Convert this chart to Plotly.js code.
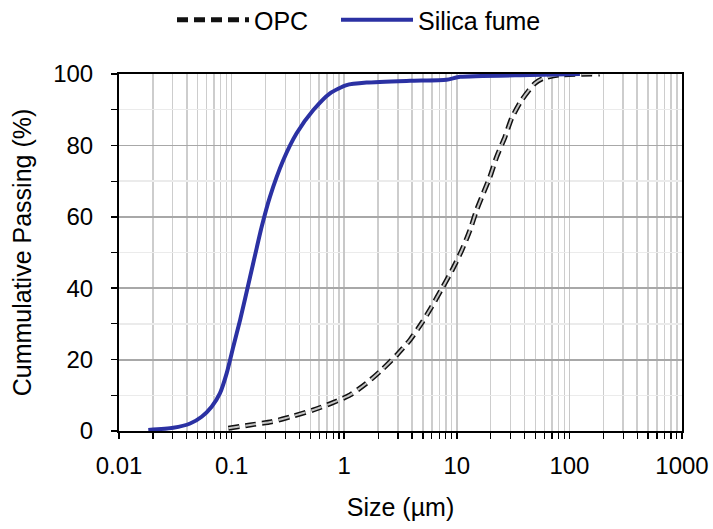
<!DOCTYPE html>
<html><head><meta charset="utf-8">
<script src="https://cdn.plot.ly/plotly-3.0.1.min.js"></script>
<style>html,body{margin:0;padding:0;background:#fff}</style>
</head><body><div id="chart" style="width:713px;height:529px"></div>
<script>
const sfSize = [0.0182, 0.0303, 0.0428, 0.0542, 0.0665, 0.0789, 0.0905, 0.1035, 0.119, 0.146, 0.185, 0.219, 0.288, 0.378, 0.532, 0.748, 1.05, 1.58, 3.84, 8.1, 10.7, 44.7, 124];
const sfPass = [0.3, 0.9, 2.1, 4.0, 6.8, 10.6, 16.2, 23.6, 31.1, 43.2, 57.2, 65.6, 75.9, 83.4, 89.9, 94.6, 96.9, 97.6, 98.1, 98.4, 99.2, 99.7, 100];
const opcSize = [0.0935, 0.146, 0.227, 0.353, 0.532, 0.775, 1.13, 1.58, 2.15, 2.93, 3.84, 4.87, 5.98, 7.34, 9.0, 11.1, 13.1, 15.0, 17.2, 19.7, 22.6, 26.8, 30.7, 37.7, 49.4, 58.6, 80, 186];
const opcPass = [0.75, 1.7, 2.6, 4.2, 5.9, 7.8, 10.1, 13.4, 17.1, 21.3, 25.5, 30.2, 34.8, 39.8, 44.8, 50.7, 56.3, 61.9, 66.6, 71.2, 76.8, 82.4, 87.6, 92.7, 97.4, 98.8, 99.7, 100];
const xTickVals = [0.01, 0.1, 1, 10, 100, 1000];
const xTickText = ['0.01', '0.1', '1', '10', '100', '1000'];

const font = {family: 'Liberation Sans, Arial, sans-serif', color: '#000'};
const traces = [
  {x: opcSize, y: opcPass, name: 'OPC', legend: 'legend', mode: 'lines', line: {color: '#111', width: 5, dash: '11px,6px', shape: 'spline', smoothing: 0.6}},
  {x: opcSize, y: opcPass, name: 'OPC', mode: 'lines', showlegend: false, hoverinfo: 'skip', line: {color: '#c4c4c4', width: 2, dash: '11px,6px', shape: 'spline', smoothing: 0.6}},
  {x: sfSize, y: sfPass, name: 'Silica fume', legend: 'legend2', mode: 'lines', line: {color: '#2b31a3', width: 4, shape: 'spline', smoothing: 0.6}}
];
const legendBase = {orientation: 'h', xanchor: 'left', xref: 'container', y: 1 - 20 / 529, yref: 'container', yanchor: 'middle', font: Object.assign({size: 25}, font), itemwidth: 72, bgcolor: 'rgba(0,0,0,0)'};
const layout = {
  width: 713, height: 529,
  margin: {l: 119, r: 31, t: 74, b: 98},
  paper_bgcolor: '#fff', plot_bgcolor: '#fff',
  font: Object.assign({size: 24}, font),
  showlegend: true,
  legend: Object.assign({x: 172 / 713}, legendBase),
  legend2: Object.assign({x: 336 / 713}, legendBase),
  xaxis: {
    type: 'log', range: [-2, 3],
    tickmode: 'array', tickvals: xTickVals, ticktext: xTickText,
    ticks: 'outside', ticklen: 6, tickwidth: 1.5, tickcolor: '#000',
    showline: true, linecolor: '#000', linewidth: 2, mirror: true,
    showgrid: true, gridcolor: '#c8c8c8', gridwidth: 1.5,
    minor: {dtick: 'D1', ticks: 'outside', ticklen: 6, tickwidth: 1.2, tickcolor: '#000', showgrid: true, gridcolor: '#cdcdcd', gridwidth: 1.5},
    tickfont: Object.assign({size: 24}, font), ticklabelstandoff: 6,
    title: {text: 'Size (µm)', font: Object.assign({size: 25}, font), standoff: 21},
    zeroline: false
  },
  yaxis: {
    range: [0, 100], dtick: 20,
    ticks: 'outside', ticklen: 6, tickwidth: 1.5, tickcolor: '#000',
    showline: true, linecolor: '#000', linewidth: 2, mirror: true,
    showgrid: true, gridcolor: '#a8a8a8', gridwidth: 1.8,
    minor: {dtick: 10, ticks: 'outside', ticklen: 6, tickwidth: 1.2, tickcolor: '#000', showgrid: true, gridcolor: '#ebebeb', gridwidth: 1.5},
    tickfont: Object.assign({size: 24}, font), ticklabelstandoff: 13,
    title: {text: 'Cummulative Passing (%)', font: Object.assign({size: 25}, font), standoff: 14},
    zeroline: false
  }
};
Plotly.newPlot('chart', traces, layout, {displayModeBar: false, staticPlot: true});
</script></body></html>
